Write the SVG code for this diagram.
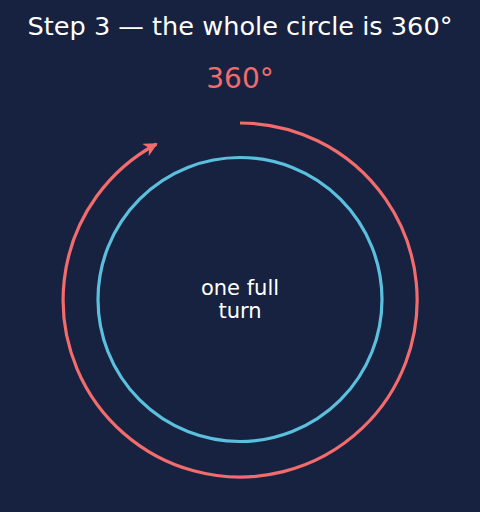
<svg xmlns="http://www.w3.org/2000/svg" width="480" height="512" viewBox="0 0 480 512">
<defs>
<style>
.t{font-family:"DejaVu Sans","Noto Sans",sans-serif;text-anchor:middle}
</style>
<marker id="ah" viewBox="0 0 10 10" refX="9" refY="5" markerWidth="4.4" markerHeight="4.4" orient="auto" markerUnits="strokeWidth">
<path d="M0,0 L10,5 L0,10 L3,5 Z" fill="#f26b6d"/>
</marker>
</defs>
<rect width="480" height="512" fill="#172240"/>
<text class="t" x="240" y="35" font-size="25.6" fill="#ffffff">Step 3 — the whole circle is 360°</text>
<g id="label360"><text class="t" x="240" y="88" font-size="28" fill="#f26b6d">360°</text></g>
<g id="connectors">
<path d="M240 123 A177 177 0 1 1 156.5 144" fill="none" stroke="#f26b6d" stroke-width="3.2" marker-end="url(#ah)"/>
</g>
<g id="circle">
<circle cx="240" cy="299.5" r="142" fill="none" stroke="#5bc0de" stroke-width="3.2"/>
<text class="t" x="240" y="295" font-size="21" fill="#ffffff">one full</text>
<text class="t" x="240" y="318" font-size="21" fill="#ffffff">turn</text>
</g>
</svg>
